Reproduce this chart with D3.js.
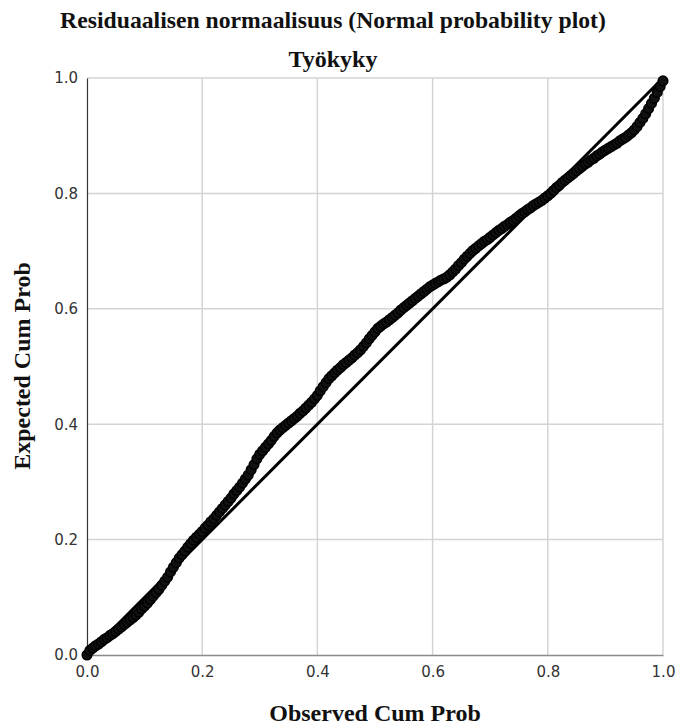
<!DOCTYPE html>
<html>
<head>
<meta charset="utf-8">
<script src="https://cdn.jsdelivr.net/npm/d3@7"></script>
<style>
  body { margin: 0; background: #fff; }
  svg { display: block; }
</style>
</head>
<body>
<svg id="chart" width="680" height="727"></svg>
<script>
// ---- data ----
const titleText = "Residuaalisen normaalisuus (Normal probability plot)";
const subtitleText = "Työkyky";
const xAxisTitle = "Observed Cum Prob";
const yAxisTitle = "Expected Cum Prob";
const tickValues = [0.0, 0.2, 0.4, 0.6, 0.8, 1.0];

const observedCumProb = [
  0.000,0.005,0.010,0.015,0.020,0.025,0.030,0.035,0.040,0.045,
  0.050,0.055,0.060,0.065,0.070,0.075,0.080,0.085,0.090,0.095,
  0.100,0.105,0.110,0.115,0.120,0.125,0.130,0.135,0.140,0.145,
  0.150,0.155,0.160,0.165,0.170,0.175,0.180,0.185,0.190,0.195,
  0.200,0.205,0.210,0.215,0.220,0.225,0.230,0.235,0.240,0.245,
  0.250,0.255,0.260,0.265,0.270,0.275,0.280,0.285,0.290,0.295,
  0.300,0.305,0.310,0.315,0.320,0.325,0.330,0.335,0.340,0.345,
  0.350,0.355,0.360,0.365,0.370,0.375,0.380,0.385,0.390,0.395,
  0.400,0.405,0.410,0.415,0.420,0.425,0.430,0.435,0.440,0.445,
  0.450,0.455,0.460,0.465,0.470,0.475,0.480,0.485,0.490,0.495,
  0.500,0.505,0.510,0.515,0.520,0.525,0.530,0.535,0.540,0.545,
  0.550,0.555,0.560,0.565,0.570,0.575,0.580,0.585,0.590,0.595,
  0.600,0.605,0.610,0.615,0.620,0.625,0.630,0.635,0.640,0.645,
  0.650,0.655,0.660,0.665,0.670,0.675,0.680,0.685,0.690,0.695,
  0.700,0.705,0.710,0.715,0.720,0.725,0.730,0.735,0.740,0.745,
  0.750,0.755,0.760,0.765,0.770,0.775,0.780,0.785,0.790,0.795,
  0.800,0.805,0.810,0.815,0.820,0.825,0.830,0.835,0.840,0.845,
  0.850,0.855,0.860,0.865,0.870,0.875,0.880,0.885,0.890,0.895,
  0.900,0.905,0.910,0.915,0.920,0.925,0.930,0.935,0.940,0.945,
  0.950,0.955,0.960,0.965,0.970,0.975,0.980,0.985,0.990,0.995,
  1.000
];
const expectedCumProb = [
  0.000,0.008,0.012,0.016,0.019,0.023,0.027,0.030,0.034,0.037,
  0.041,0.045,0.049,0.053,0.057,0.061,0.065,0.069,0.074,0.080,
  0.085,0.090,0.096,0.102,0.108,0.114,0.121,0.128,0.135,0.144,
  0.152,0.160,0.168,0.174,0.180,0.187,0.193,0.199,0.204,0.209,
  0.214,0.220,0.225,0.231,0.236,0.242,0.248,0.254,0.260,0.266,
  0.272,0.279,0.285,0.291,0.298,0.305,0.312,0.321,0.330,0.340,
  0.348,0.354,0.360,0.366,0.372,0.379,0.385,0.390,0.394,0.398,
  0.402,0.406,0.410,0.414,0.419,0.423,0.428,0.433,0.438,0.444,
  0.450,0.458,0.465,0.472,0.479,0.484,0.489,0.494,0.498,0.503,
  0.507,0.511,0.515,0.520,0.524,0.529,0.535,0.541,0.548,0.554,
  0.560,0.566,0.570,0.574,0.577,0.581,0.585,0.589,0.593,0.598,
  0.602,0.606,0.610,0.614,0.618,0.622,0.626,0.630,0.634,0.638,
  0.641,0.644,0.647,0.650,0.652,0.655,0.659,0.664,0.669,0.675,
  0.680,0.686,0.691,0.696,0.701,0.705,0.709,0.713,0.717,0.720,
  0.724,0.728,0.732,0.736,0.739,0.743,0.746,0.750,0.753,0.757,
  0.761,0.765,0.768,0.772,0.775,0.779,0.782,0.785,0.788,0.792,
  0.796,0.800,0.805,0.810,0.814,0.819,0.823,0.827,0.831,0.835,
  0.839,0.843,0.847,0.851,0.854,0.858,0.861,0.865,0.868,0.872,
  0.875,0.878,0.881,0.884,0.887,0.891,0.894,0.897,0.901,0.905,
  0.910,0.916,0.923,0.930,0.938,0.947,0.956,0.965,0.975,0.985,
  0.995
];
const referenceLine = [[0, 0], [1, 1]];

// ---- layout ----
const svg = d3.select("#chart");
const plotLeft = 87, plotRight = 663, plotTop = 78, plotBottom = 655;

const x = d3.scaleLinear().domain([0, 1]).range([plotLeft, plotRight]);
const y = d3.scaleLinear().domain([0, 1]).range([plotBottom, plotTop]);

// grid
const grid = svg.append("g");
grid.selectAll("line.vx").data(tickValues.slice(1)).join("line")
  .attr("class", "vx")
  .attr("x1", d => x(d)).attr("x2", d => x(d))
  .attr("y1", plotTop).attr("y2", plotBottom)
  .attr("stroke", "#d4d4d4").attr("stroke-width", 1.5);
grid.selectAll("line.hy").data(tickValues.slice(1)).join("line")
  .attr("class", "hy")
  .attr("x1", plotLeft).attr("x2", plotRight)
  .attr("y1", d => y(d)).attr("y2", d => y(d))
  .attr("stroke", "#d4d4d4").attr("stroke-width", 1.5);

// axes
const fmt = d3.format(".1f");
const xAxis = svg.append("g").attr("transform", `translate(0,${plotBottom})`)
  .call(d3.axisBottom(x).tickValues(tickValues).tickFormat(fmt).tickSize(0).tickPadding(11));
xAxis.select(".domain").attr("stroke", "#8a8a8a").attr("stroke-width", 1.5);
const yAxis = svg.append("g").attr("transform", `translate(${plotLeft},0)`)
  .call(d3.axisLeft(y).tickValues(tickValues).tickFormat(fmt).tickSize(0).tickPadding(9));
yAxis.select(".domain").attr("stroke", "#333").attr("stroke-width", 1.2);
svg.selectAll(".tick text")
  .attr("font-family", "DejaVu Sans, sans-serif")
  .attr("font-size", 15)
  .attr("fill", "#333");

// reference diagonal
svg.append("path")
  .datum(referenceLine)
  .attr("d", d3.line().x(d => x(d[0])).y(d => y(d[1])))
  .attr("stroke", "#000").attr("stroke-width", 3).attr("fill", "none");

// points
const pts = observedCumProb.map((v, i) => [v, expectedCumProb[i]]);
svg.append("g").selectAll("circle").data(pts).join("circle")
  .attr("cx", d => x(d[0])).attr("cy", d => y(d[1]))
  .attr("r", 4.8)
  .attr("fill", "#111").attr("stroke", "#000").attr("stroke-width", 1.5);

// titles
const serif = "Liberation Serif, Times New Roman, serif";
svg.append("text").attr("x", 333).attr("y", 28)
  .attr("text-anchor", "middle").attr("font-family", serif)
  .attr("font-weight", "bold").attr("font-size", 23.7).attr("fill", "#111")
  .text(titleText);
svg.append("text").attr("x", 333).attr("y", 67)
  .attr("text-anchor", "middle").attr("font-family", serif)
  .attr("font-weight", "bold").attr("font-size", 24).attr("fill", "#111")
  .text(subtitleText);
svg.append("text").attr("x", 375).attr("y", 721)
  .attr("text-anchor", "middle").attr("font-family", serif)
  .attr("font-weight", "bold").attr("font-size", 24).attr("fill", "#111")
  .text(xAxisTitle);
svg.append("text").attr("transform", "translate(30,366) rotate(-90)")
  .attr("text-anchor", "middle").attr("font-family", serif)
  .attr("font-weight", "bold").attr("font-size", 24).attr("fill", "#111")
  .text(yAxisTitle);
</script>
</body>
</html>
